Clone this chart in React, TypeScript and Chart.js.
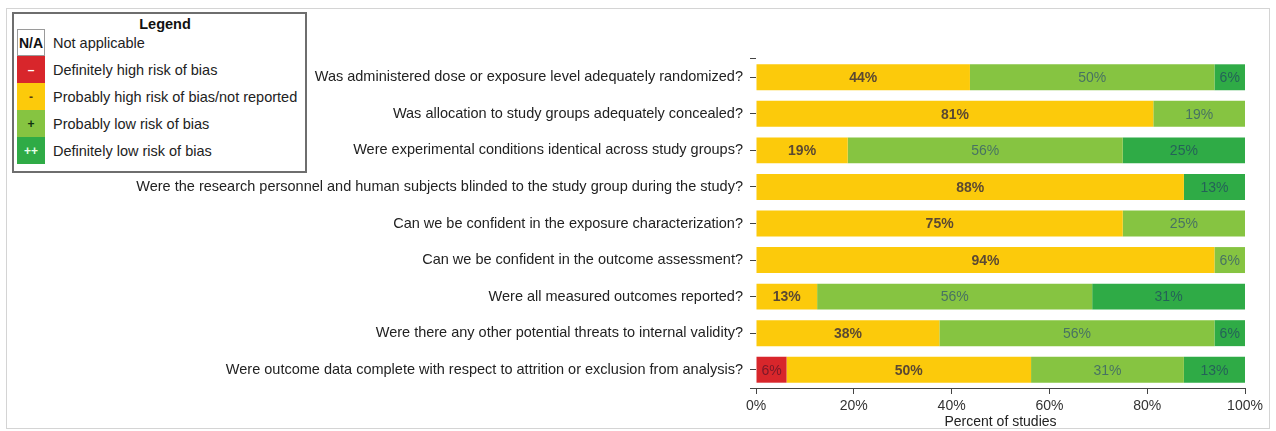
import React, { useEffect, useRef } from "react";
import { Chart, registerables } from "chart.js";

Chart.register(...registerables);

const FONT = '"Liberation Sans", Arial, Helvetica, sans-serif';

const questions = [
  "Was administered dose or exposure level adequately randomized?",
  "Was allocation to study groups adequately concealed?",
  "Were experimental conditions identical across study groups?",
  "Were the research personnel and human subjects blinded to the study group during the study?",
  "Can we be confident in the exposure characterization?",
  "Can we be confident in the outcome assessment?",
  "Were all measured outcomes reported?",
  "Were there any other potential threats to internal validity?",
  "Were outcome data complete with respect to attrition or exclusion from analysis?",
];

// percent of studies (16 studies)
const definitelyHigh = [0, 0, 0, 0, 0, 0, 0, 0, 6.25];
const probablyHigh = [43.75, 81.25, 18.75, 87.5, 75, 93.75, 12.5, 37.5, 50];
const probablyLow = [50, 18.75, 56.25, 0, 25, 6.25, 56.25, 56.25, 31.25];
const definitelyLow = [6.25, 0, 25, 12.5, 0, 0, 31.25, 6.25, 12.5];

const xTicks = [0, 20, 40, 60, 80, 100];
const xTitle = "Percent of studies";

const seriesNames = [
  "Definitely high risk of bias",
  "Probably high risk of bias/not reported",
  "Probably low risk of bias",
  "Definitely low risk of bias",
];
const seriesColors = ["#D8262B", "#FCCA0B", "#86C441", "#2FAB46"];
const labelColors = [
  "rgba(90,20,40,0.75)",
  "rgba(50,40,60,0.8)",
  "rgba(30,60,120,0.6)",
  "rgba(30,50,100,0.6)",
];

const legendTitle = "Legend";
const legendLabels = [
  "Not applicable",
  "Definitely high risk of bias",
  "Probably high risk of bias/not reported",
  "Probably low risk of bias",
  "Definitely low risk of bias",
];
const legendSymbols = ["N/A", "\u2013", "-", "+", "++"];
const legendFills = ["#FFFFFF", "#D8262B", "#FCCA0B", "#86C441", "#2FAB46"];
const legendSymbolColors = ["#111", "#fff", "#5a3a10", "#113311", "#e8ffe8"];

const barLabelsPlugin = {
  id: "barLabels",
  afterDatasetsDraw(chart: any) {
    const ctx = chart.ctx;
    ctx.save();
    ctx.textAlign = "center";
    ctx.textBaseline = "middle";
    chart.data.datasets.forEach((ds: any, di: number) => {
      const meta = chart.getDatasetMeta(di);
      ctx.font = `${di === 1 ? "bold " : ""}14px ${FONT}`;
      meta.data.forEach((el: any, i: number) => {
        const v = ds.data[i];
        if (!v) return;
        const p = el.getCenterPoint();
        ctx.fillStyle = labelColors[di];
        ctx.fillText(Math.round(v) + "%", p.x, p.y + 1);
      });
    });
    ctx.restore();
  },
};

const outerTicksPlugin = {
  id: "outerTicks",
  afterDraw(chart: any) {
    const { left, top, bottom } = chart.chartArea;
    const ctx = chart.ctx;
    ctx.save();
    ctx.strokeStyle = "#444";
    ctx.lineWidth = 1;
    ctx.beginPath();
    ctx.moveTo(left - 6, Math.round(top) - 0.5);
    ctx.lineTo(left, Math.round(top) - 0.5);
    ctx.moveTo(left - 6, Math.round(bottom) + 0.5);
    ctx.lineTo(left, Math.round(bottom) + 0.5);
    ctx.stroke();
    ctx.restore();
  },
};

export default function App() {
  const canvasRef = useRef<HTMLCanvasElement | null>(null);

  useEffect(() => {
    if (!canvasRef.current) return;
    const series = [definitelyHigh, probablyHigh, probablyLow, definitelyLow];
    const chart = new Chart(canvasRef.current, {
      type: "bar",
      data: {
        labels: questions,
        datasets: series.map((d, i) => ({
          label: seriesNames[i],
          data: d,
          backgroundColor: seriesColors[i],
          borderWidth: 0,
          barPercentage: 0.71,
          categoryPercentage: 1,
        })),
      },
      options: {
        indexAxis: "y",
        responsive: false,
        animation: false,
        devicePixelRatio: 1,
        layout: { padding: { left: 0, right: 31, top: 59, bottom: 0 } },
        plugins: {
          legend: { display: false },
          tooltip: { enabled: false },
        },
        scales: {
          x: {
            type: "linear",
            stacked: true,
            min: 0,
            max: 100,
            afterBuildTicks: (scale: any) => {
              scale.ticks = xTicks.map((v) => ({ value: v }));
            },
            afterFit: (scale: any) => {
              scale.height = 43;
            },
            ticks: {
              callback: (v: any) => v + "%",
              font: { family: FONT, size: 14 },
              color: "#333",
              padding: 4,
              maxRotation: 0,
            },
            grid: {
              display: true,
              drawOnChartArea: false,
              drawTicks: true,
              tickLength: 6,
              color: "#444",
            },
            border: { display: true, color: "#444", width: 1 },
            title: {
              display: true,
              text: xTitle,
              font: { family: FONT, size: 14 },
              color: "#222",
              padding: { top: 0, bottom: 0 },
            },
          },
          y: {
            type: "category",
            stacked: true,
            afterFit: (scale: any) => {
              scale.width = 756;
            },
            ticks: {
              font: { family: FONT, size: 14.5 },
              color: "#222",
              padding: 7,
              autoSkip: false,
            },
            grid: {
              display: true,
              drawOnChartArea: false,
              drawTicks: true,
              tickLength: 6,
              color: "#444",
              offset: false,
            },
            border: { display: false },
          },
        },
      },
      plugins: [barLabelsPlugin, outerTicksPlugin],
    } as any);
    return () => chart.destroy();
  }, []);

  return (
    <div
      style={{
        position: "absolute",
        left: 0,
        top: 0,
        width: 1276,
        height: 431,
        overflow: "hidden",
        background: "#fff",
        fontFamily: FONT,
      }}
    >
      <div
        style={{
          position: "absolute",
          left: 6,
          top: 8,
          width: 1262,
          height: 419,
          border: "1px solid #d4d4d4",
        }}
      />
      <canvas
        ref={canvasRef}
        width={1276}
        height={431}
        style={{ position: "absolute", left: 0, top: 0, width: 1276, height: 431 }}
      />
      <div
        style={{
          position: "absolute",
          left: 12,
          top: 12,
          width: 291,
          height: 157,
          border: "2px solid #6e6e6e",
          background: "#fff",
          color: "#222",
          fontSize: 14.5,
        }}
      >
        <div
          style={{
            position: "absolute",
            left: 151,
            top: 2,
            transform: "translateX(-50%)",
            fontWeight: "bold",
            lineHeight: "17px",
            color: "#111",
            whiteSpace: "nowrap",
          }}
        >
          {legendTitle}
        </div>
        {legendLabels.map((lab, i) => (
          <div
            key={lab}
            style={{
              position: "absolute",
              left: 3,
              top: 15 + i * 27,
              height: 27,
              display: "flex",
              alignItems: "center",
              whiteSpace: "nowrap",
            }}
          >
            <div
              style={{
                width: i === 0 ? 26 : 28,
                height: i === 0 ? 25 : 27,
                background: legendFills[i],
                border: i === 0 ? "1px solid #9a9a9a" : "none",
                display: "flex",
                alignItems: "center",
                justifyContent: "center",
                color: legendSymbolColors[i],
                fontWeight: "bold",
                fontSize: i === 0 ? 14 : 12,
              }}
            >
              {legendSymbols[i]}
            </div>
            <div style={{ marginLeft: 8 }}>{lab}</div>
          </div>
        ))}
      </div>
    </div>
  );
}
